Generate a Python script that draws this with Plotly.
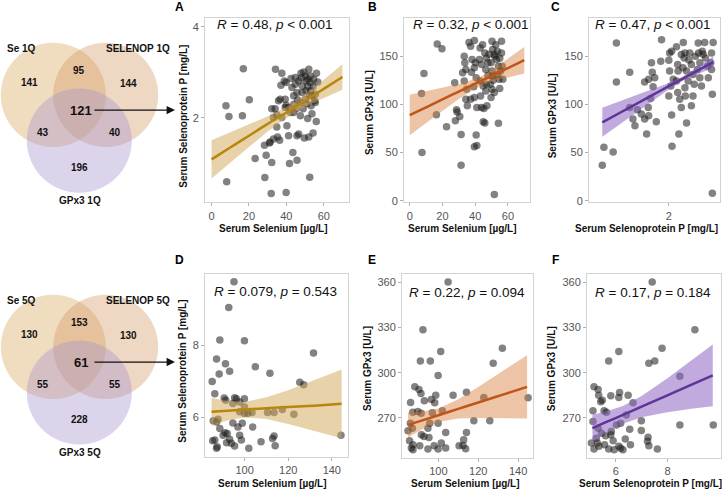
import plotly.graph_objects as go

W, H = 723, 494
FONT = "Liberation Sans, Arial, sans-serif"

# ---------------- data ----------------
# Panel A: Se 1Q vs SELENOP
a_se = [7.7, 9.3, 17.0, 16.5, 20.2, 8.1, 23.3, 28.3, 29.2, 31.3, 32.2, 28.5, 31.9, 39.9, 34.2, 37.6, 37.1, 38.9,
        34.0, 35.8, 33.1, 34.9, 35.3, 36.4, 37.6, 39.4, 40.3, 41.2, 42.1, 41.7, 43.5, 45.7, 42.5, 43.0, 43.9, 44.8,
        45.7, 46.6, 45.3, 45.7, 46.6, 47.8, 48.4, 47.5, 49.6, 52.0, 51.4, 52.5, 54.3, 56.0, 49.3, 50.7, 52.0, 52.8,
        51.4, 52.5, 50.2, 51.0, 53.2, 55.0, 55.5, 56.8, 56.1, 54.3, 53.7, 39.9, 36.7, 41.2, 43.9, 47.5, 39.4, 32.2,
        34.9, 33.1, 31.0, 39.9, 44.8, 50.2, 52.8, 54.6, 55.5, 53.7, 48.5, 50.5, 53.0, 49.0, 46.0, 44.0, 51.5, 48.0]
a_selenop = [2.27, 2.03, 3.08, 2.05, 2.40, 0.60, 1.11, 1.40, 1.18, 1.47, 1.02, 0.69, 0.34, 0.36, 3.07, 2.98, 2.72, 2.81,
             2.20, 2.38, 2.01, 1.80, 1.58, 1.51, 2.01, 2.41, 1.83, 1.61, 2.12, 1.00, 1.24, 1.07, 2.87, 2.67, 2.49, 2.74,
             1.61, 1.65, 2.20, 2.56, 2.81, 2.98, 2.56, 2.34, 1.56, 1.58, 1.99, 0.70, 1.67, 1.92, 3.01, 2.81, 3.07, 2.92,
             2.69, 2.50, 2.41, 2.31, 2.27, 2.38, 2.52, 2.79, 2.98, 2.69, 2.49, 2.78, 2.41, 2.23, 2.12, 2.05, 2.23, 2.20,
             2.07, 1.54, 1.45, 2.28, 2.89, 2.92, 2.78, 2.85, 2.34, 2.09, 2.70, 2.60, 2.60, 2.20, 2.40, 2.30, 2.85, 2.88]

# Panel B: Se 1Q vs GPx3
b_se = [16.8, 19.7, 8.7, 7.2, 7.5, 16.3, 22.5, 27.5, 27.9, 28.6, 31.4, 31.4, 30.6, 33.3, 33.7, 34.3, 32.3, 33.3,
        34.8, 34.3, 35.2, 36.2, 37.2, 39.5, 38.1, 39.5, 37.7, 40.6, 39.1, 37.2, 39.5, 41.0, 40.6, 39.5, 41.0, 42.6,
        43.9, 43.0, 44.9, 43.3, 43.9, 45.3, 44.5, 45.9, 46.8, 47.8, 46.5, 47.8, 46.8, 46.5, 47.2, 44.9, 45.9, 50.3,
        50.7, 51.7, 49.7, 50.3, 50.7, 49.2, 50.3, 49.7, 51.7, 52.6, 53.6, 53.0, 54.2, 53.6, 54.6, 55.0, 51.7, 54.2,
        56.1, 56.5, 55.5, 56.9, 56.1, 43.0, 40.1, 29.0, 52.0, 48.5, 55.0, 51.0]
b_gpx3 = [162.7, 157.9, 132.2, 111.2, 50.1, 89.3, 76.9, 122.6, 83.1, 94.4, 68.7, 36.7, 87.5, 150.0, 143.2, 136.3, 132.9, 124.3,
          115.7, 105.4, 98.5, 164.4, 160.3, 166.5, 146.6, 138.0, 133.5, 127.7, 118.4, 105.4, 107.1, 96.8, 68.3, 56.0, 57.3, 146.6,
          141.4, 124.3, 119.1, 108.8, 96.8, 95.8, 162.0, 153.5, 148.3, 143.2, 136.3, 130.1, 120.8, 114.0, 98.5, 82.0, 80.7, 165.5,
          156.9, 151.7, 143.2, 134.6, 129.4, 120.8, 115.7, 107.1, 112.3, 162.0, 155.2, 146.6, 139.7, 131.1, 126.0, 116.4, 6.5, 80.3,
          153.5, 139.7, 134.6, 126.0, 165.5, 158.6, 143.2, 92.0, 150.0, 152.0, 148.0, 125.0]

# Panel C: SELENOP 1Q vs GPx3
c_selenop = [0.35, 0.39, 0.62, 0.70, 0.70, 1.03, 1.11, 1.16, 1.03, 1.22, 1.32, 1.40, 1.45, 1.40, 1.50, 1.57, 1.59, 1.61,
             1.55, 1.49, 1.50, 1.65, 1.69, 1.82, 1.80, 2.02, 2.07, 2.00, 2.02, 2.11, 2.05, 2.00, 2.07, 2.08, 2.22, 2.23,
             2.19, 2.22, 2.27, 2.31, 2.25, 2.36, 2.40, 2.38, 2.44, 2.48, 2.40, 2.41, 2.44, 2.56, 2.52, 2.56, 2.60, 2.63,
             2.60, 2.73, 2.74, 2.77, 2.71, 2.77, 2.81, 2.83, 2.89, 2.91, 2.96, 2.98, 3.10, 3.06, 3.04, 3.06, 3.08, 3.08,
             2.19, 2.31, 2.66, 2.35, 2.50, 2.85]
c_gpx3 = [36.7, 55.6, 50.5, 163.7, 123.2, 133.5, 84.8, 77.9, 96.8, 94.4, 89.9, 84.8, 69.3, 123.2, 126.0, 143.2, 133.5, 118.4,
          106.1, 96.8, 88.2, 127.7, 82.0, 167.2, 144.9, 153.5, 155.2, 145.9, 134.6, 126.0, 119.1, 108.8, 88.9, 56.6, 141.4, 134.6,
          124.3, 112.3, 105.4, 96.8, 69.3, 164.4, 153.5, 148.3, 134.6, 124.3, 117.4, 108.8, 80.7, 98.5, 153.5, 141.4, 131.1, 120.8,
          108.8, 163.7, 153.5, 143.2, 136.3, 127.7, 119.1, 155.2, 164.4, 148.3, 139.7, 127.7, 164.4, 153.5, 143.2, 136.3, 110.5, 7.6,
          160.0, 151.7, 150.0, 138.0, 146.0, 152.0]

# Panel D: Se 5Q vs SELENOP
d_se = [95.1, 92.7, 88.6, 99.9, 87.1, 88.3, 91.2, 93.1, 85.1, 86.3, 90.6, 91.3, 95.4, 94.6, 97.7, 99.9, 104.9, 111.6,
        131.6, 125.3, 127.1, 85.6, 87.1, 87.8, 85.3, 86.3, 87.4, 87.1, 88.6, 90.1, 91.0, 92.0, 91.7, 93.1, 93.9, 95.4,
        94.6, 96.9, 98.9, 97.7, 98.5, 97.7, 99.9, 101.4, 103.4, 99.9, 101.9, 103.7, 107.5, 110.5, 113.5, 117.3, 122.6,
        112.8, 113.5, 114.0, 144.2, 96.2]
d_selenop = [9.75, 9.04, 8.14, 8.12, 7.61, 7.20, 7.48, 7.27, 6.99, 6.65, 6.53, 6.47, 6.54, 6.38, 6.42, 6.51, 7.40, 7.22,
             7.78, 6.97, 6.90, 5.90, 5.87, 5.94, 5.35, 5.37, 5.18, 5.14, 5.69, 5.50, 5.57, 5.55, 5.29, 5.39, 5.28, 5.20,
             5.84, 5.73, 5.83, 5.50, 5.37, 6.15, 6.10, 6.10, 6.13, 6.28, 5.14, 5.73, 5.32, 6.13, 6.13, 6.21, 6.08,
             5.41, 5.48, 5.21, 5.50, 6.51]

# Panel E: Se 5Q vs GPx3
e_se = [104.9, 92.3, 91.0, 96.0, 101.2, 99.9, 88.2, 90.3, 91.3, 93.0, 98.7, 98.2, 107.4, 114.1, 122.8, 127.5, 132.1, 145.0,
        86.1, 87.2, 89.7, 91.4, 97.0, 102.0, 99.9, 95.7, 94.8, 84.8, 87.0, 86.0, 91.5, 92.8, 95.3, 85.6, 87.3, 86.5,
        87.3, 90.7, 94.8, 97.9, 99.9, 101.5, 103.7, 103.7, 110.4, 112.4, 112.7, 114.1, 113.7, 117.8, 125.8, 96.5]
e_gpx3 = [360.0, 328.5, 307.7, 307.7, 314.0, 298.2, 290.6, 288.8, 286.2, 281.4, 285.1, 280.1, 285.1, 287.1, 283.6, 306.3, 316.2, 283.4,
          280.3, 273.7, 274.2, 273.1, 273.5, 274.8, 266.5, 266.5, 263.2, 261.5, 263.2, 266.5, 258.8, 257.7, 257.1, 254.9, 252.3, 250.1,
          249.0, 251.6, 249.4, 251.6, 249.4, 253.4, 260.4, 250.1, 251.6, 251.8, 255.5, 260.4, 249.6, 268.2, 268.2, 282.3]

# Panel F: SELENOP 5Q vs GPx3
f_selenop = [7.41, 9.06, 7.79, 5.73, 6.12, 7.51, 7.28, 8.48, 5.16, 5.32, 5.34, 5.81, 6.15, 6.12, 6.48, 6.67, 5.42, 5.48,
             5.12, 5.55, 5.64, 6.99, 8.48, 9.77, 5.12, 5.32, 5.45, 5.61, 5.83, 6.03, 6.19, 6.54, 6.99, 6.41, 5.06, 5.16,
             5.29, 5.35, 5.57, 5.73, 5.90, 5.94, 6.12, 6.19, 6.28, 6.37, 6.57, 7.23, 7.25, 7.28, 7.61, 5.81, 5.25]
f_gpx3 = [360.0, 328.5, 316.2, 307.7, 314.0, 307.7, 306.3, 297.6, 290.6, 288.8, 285.1, 284.7, 286.9, 283.6, 285.1, 280.1, 280.7, 281.8,
          274.8, 274.8, 273.7, 268.2, 265.4, 265.4, 267.6, 263.2, 259.9, 258.2, 261.0, 265.4, 266.5, 262.6, 261.7, 272.0, 253.4, 249.4,
          253.4, 251.2, 252.3, 249.4, 254.9, 249.0, 251.2, 249.9, 249.0, 256.0, 252.3, 254.5, 257.3, 251.6, 249.4, 258.8, 256.6]

# Fitted lines and confidence bands
fitA_x = [0, 10, 20, 30, 40, 45, 50, 60, 70]
fitA_y = [1.09, 1.35, 1.61, 1.87, 2.12, 2.25, 2.38, 2.64, 2.90]
fitA_lo = [0.67, 1.02, 1.36, 1.70, 2.00, 2.13, 2.24, 2.44, 2.62]
fitA_hi = [1.51, 1.68, 1.86, 2.04, 2.24, 2.37, 2.52, 2.84, 3.18]

fitB_x = [0, 10, 20, 30, 40, 45, 50, 60, 70]
fitB_y = [88.9, 97.0, 105.2, 113.3, 121.5, 125.5, 129.6, 137.7, 145.9]
fitB_lo = [67.9, 80.6, 93.3, 105.5, 116.5, 120.6, 123.7, 128.3, 132.2]
fitB_hi = [109.9, 113.4, 117.2, 121.1, 126.5, 130.4, 135.5, 147.1, 159.6]

fitC_x = [0.35, 0.8, 1.2, 1.6, 2.0, 2.35, 2.7, 3.1]
fitC_y = [81.4, 91.6, 100.7, 109.8, 118.9, 126.8, 134.8, 143.8]
fitC_lo = [66.4, 79.9, 91.9, 103.8, 115.5, 124.6, 131.4, 137.8]
fitC_hi = [96.4, 103.3, 109.5, 115.8, 122.3, 129.0, 138.2, 149.8]

fitD_x = [84.8, 92, 100, 110, 120, 132, 144.5]
fitD_y = [6.15, 6.18, 6.21, 6.25, 6.28, 6.32, 6.37]
fitD_lo = [5.77, 5.91, 6.00, 5.95, 5.81, 5.62, 5.42]
fitD_hi = [6.53, 6.45, 6.42, 6.55, 6.75, 7.02, 7.32]

fitE_x = [84.8, 92, 100, 110, 120, 132, 144.5]
fitE_y = [265.4, 268.4, 271.8, 276.0, 280.2, 285.3, 290.6]
fitE_lo = [257.1, 262.6, 267.3, 269.6, 270.0, 269.9, 269.6]
fitE_hi = [273.7, 274.2, 276.3, 282.4, 290.5, 300.7, 311.6]

fitF_x = [5.1, 5.6, 6.3, 7.0, 8.0, 9.0, 9.75]
fitF_y = [263.2, 267.0, 272.2, 277.5, 285.0, 292.6, 298.2]
fitF_lo = [254.2, 259.9, 266.3, 270.4, 273.7, 276.2, 277.7]
fitF_hi = [272.2, 274.1, 278.1, 284.6, 296.3, 309.0, 318.7]

stat_labels = ["<i>R</i> = 0.48, <i>p</i> &lt; 0.001", "<i>R</i> = 0.32, <i>p</i> &lt; 0.001",
               "<i>R</i> = 0.47, <i>p</i> &lt; 0.001", "<i>R</i> = 0.079, <i>p</i> = 0.543",
               "<i>R</i> = 0.22, <i>p</i> = 0.094", "<i>R</i> = 0.17, <i>p</i> = 0.184"]
panel_letters = ["A", "B", "C", "D", "E", "F"]
x_titles = ["Serum Selenium [µg/L]", "Serum Selenium [µg/L]", "Serum Selenoprotein P [mg/L]",
            "Serum Selenium [µg/L]", "Serum Selenium [µg/L]", "Serum Selenoprotein P [mg/L]"]
y_titles = ["Serum Selenoprotein P [mg/L]", "Serum GPx3 [U/L]", "Serum GPx3 [U/L]",
            "Serum Selenoprotein P [mg/L]", "Serum GPx3 [U/L]", "Serum GPx3 [U/L]"]

venn_top_sets = ["Se 1Q", "SELENOP 1Q", "GPx3 1Q"]
venn_top_counts = [141, 95, 144, 121, 43, 40, 196]   # Se, Se&SEL, SEL, all, Se&GPx, SEL&GPx, GPx
venn_bot_sets = ["Se 5Q", "SELENOP 5Q", "GPx3 5Q"]
venn_bot_counts = [130, 153, 130, 61, 55, 55, 228]

# ---------------- layout helpers ----------------
def px(x):
    return x / W

def py(y):
    return 1 - y / H

fig = go.Figure()

# panel boxes in pixels: (left, right, top, bottom)
boxes = [(205, 349, 18, 204), (404, 530, 18, 204), (589, 720, 18, 204),
         (205, 347.5, 276.5, 461), (402, 532.5, 276, 462), (587, 720.5, 276, 462)]
xranges = [[-3.5, 73.5], [-3.5, 73.5], [0.02, 3.27], [81.8, 147.2], [81.8, 147.2], [4.89, 10.05]]
yranges = [[0.146, 4.2], [-1.75, 189.9], [-1.75, 189.9], [4.89, 9.96], [243.3, 365.5], [243.3, 365.5]]
xticks = [[0, 20, 40, 60], [0, 20, 40, 60], [2], [100, 120, 140], [100, 120, 140], [6, 8]]
yticks = [[2, 4], [0, 50, 100, 150], [0, 50, 100, 150], [6, 8], [270, 300, 330, 360], [270, 300, 330, 360]]

scatter_x = [a_se, b_se, c_selenop, d_se, e_se, f_selenop]
scatter_y = [a_selenop, b_gpx3, c_gpx3, d_selenop, e_gpx3, f_gpx3]
fits = [(fitA_x, fitA_y, fitA_lo, fitA_hi), (fitB_x, fitB_y, fitB_lo, fitB_hi), (fitC_x, fitC_y, fitC_lo, fitC_hi),
        (fitD_x, fitD_y, fitD_lo, fitD_hi), (fitE_x, fitE_y, fitE_lo, fitE_hi), (fitF_x, fitF_y, fitF_lo, fitF_hi)]
line_colors = ["#B8860B", "#BF5517", "#5E3496", "#B8860B", "#BF5517", "#5E3496"]
band_colors = ["rgba(210,165,85,0.5)", "rgba(215,125,55,0.45)", "rgba(140,100,195,0.55)",
               "rgba(210,165,85,0.5)", "rgba(215,125,55,0.45)", "rgba(140,100,195,0.55)"]

# positions of text pieces (pixels)
stat_pos = [(274.5, 25), (471, 25), (653, 25), (275.7, 294.3), (467, 295), (652.5, 295)]
letter_pos = [(179, 7), (372.5, 7), (555.5, 7), (179, 262.3), (372.5, 262.3), (555.5, 262.3)]
xtitle_pos = [(273, 230), (463, 230), (646, 230), (272, 487.3), (465, 487.3), (650, 487.3)]
ytitle_pos = [(182.7, 117), (369, 114), (552.3, 117), (182.7, 374), (368, 372), (552.3, 372)]

annotations = []
for i in range(6):
    n = "" if i == 0 else str(i + 1)
    l, r, t, b = boxes[i]
    axis_common = dict(showline=True, mirror=True, linecolor="#d3d3d3", linewidth=1,
                       showgrid=False, zeroline=False, ticks="outside", ticklen=3, tickwidth=1,
                       tickcolor="#b0b0b0", tickfont=dict(family=FONT, size=11, color="#555555"))
    fig.layout["xaxis" + n] = dict(domain=[px(l), px(r)], range=xranges[i], tickvals=xticks[i],
                                   anchor="y" + n, **axis_common)
    fig.layout["yaxis" + n] = dict(domain=[py(b), py(t)], range=yranges[i], tickvals=yticks[i],
                                   anchor="x" + n, **axis_common)
    fig.add_trace(go.Scatter(x=scatter_x[i], y=scatter_y[i], mode="markers", xaxis="x" + n, yaxis="y" + n,
                             marker=dict(size=7.5, color="rgba(30,28,25,0.55)", line=dict(width=0)),
                             showlegend=False, hoverinfo="skip"))
    fx, fy, flo, fhi = fits[i]
    fig.add_trace(go.Scatter(x=list(fx) + list(fx)[::-1], y=list(fhi) + list(flo)[::-1], mode="lines",
                             fill="toself", fillcolor=band_colors[i], line=dict(width=0),
                             xaxis="x" + n, yaxis="y" + n, showlegend=False, hoverinfo="skip"))
    fig.add_trace(go.Scatter(x=fx, y=fy, mode="lines", line=dict(color=line_colors[i], width=2.5, shape="spline"),
                             xaxis="x" + n, yaxis="y" + n, showlegend=False, hoverinfo="skip"))
    sx, sy = stat_pos[i]
    annotations.append(dict(x=px(sx), y=py(sy), xref="paper", yref="paper", text=stat_labels[i],
                            showarrow=False, xanchor="center", yanchor="middle",
                            font=dict(family=FONT, size=13.5, color="#111111")))
    lx, ly = letter_pos[i]
    annotations.append(dict(x=px(lx), y=py(ly), xref="paper", yref="paper", text="<b>%s</b>" % panel_letters[i],
                            showarrow=False, xanchor="center", yanchor="middle",
                            font=dict(family=FONT, size=12, color="#000000")))
    tx, ty = xtitle_pos[i]
    annotations.append(dict(x=px(tx), y=py(ty), xref="paper", yref="paper", text="<b>%s</b>" % x_titles[i],
                            showarrow=False, xanchor="center", yanchor="middle",
                            font=dict(family=FONT, size=10, color="#111111")))
    tx, ty = ytitle_pos[i]
    annotations.append(dict(x=px(tx), y=py(ty), xref="paper", yref="paper", text="<b>%s</b>" % y_titles[i],
                            showarrow=False, xanchor="center", yanchor="middle", textangle=-90,
                            font=dict(family=FONT, size=10, color="#111111")))

# ---------------- Venn diagrams ----------------
venn_fill = ["rgba(218,168,93,0.4)", "rgba(212,155,105,0.4)", "rgba(167,148,205,0.4)"]
R = 52.5
shapes = []
for (dy, sets, counts) in [(0, venn_top_sets, venn_top_counts), (254, venn_bot_sets, venn_bot_counts)]:
    centers = [(53.3, 95.7 + dy), (105.7, 95.7 + dy), (79.3, 141.7 + dy)]
    for (cx, cy), col in zip(centers, venn_fill):
        shapes.append(dict(type="circle", xref="paper", yref="paper", x0=px(cx - R), x1=px(cx + R),
                           y0=py(cy + R), y1=py(cy - R), fillcolor=col, line=dict(width=0), layer="below"))
    label_pos = [(21, 49 + dy), (138.3, 49 + dy), (80, 202 + dy)]
    for (lx, ly), s in zip(label_pos, sets):
        annotations.append(dict(x=px(lx), y=py(ly), xref="paper", yref="paper", text="<b>%s</b>" % s,
                                showarrow=False, xanchor="center", yanchor="middle",
                                font=dict(family=FONT, size=10, color="#111111")))
    count_pos = [(29.3, 83.5 + dy), (79.3, 71 + dy), (128.3, 84 + dy), (81, 111 + dy),
                 (42.7, 133.3 + dy), (115, 133.3 + dy), (79.3, 169.3 + dy)]
    for k, ((cx, cy), c) in enumerate(zip(count_pos, counts)):
        annotations.append(dict(x=px(cx), y=py(cy), xref="paper", yref="paper", text="<b>%d</b>" % c,
                                showarrow=False, xanchor="center", yanchor="middle",
                                font=dict(family=FONT, size=13 if k == 3 else 10, color="#111111")))
    # arrow from the central count to the scatter panel
    annotations.append(dict(x=px(175), y=py(111 + dy), xref="paper", yref="paper", ax=-82, ay=0,
                            axref="pixel", ayref="pixel", text="", showarrow=True, arrowhead=2,
                            arrowsize=1.4, arrowwidth=1.2, arrowcolor="#111111", standoff=0))

fig.update_layout(width=W, height=H, margin=dict(l=0, r=0, t=0, b=0),
                  paper_bgcolor="white", plot_bgcolor="white",
                  annotations=annotations, shapes=shapes, showlegend=False)

fig.write_html("out.html", config={"displayModeBar": False},
               post_script="document.body.style.margin='0';document.body.style.padding='0';"
                           "document.body.style.overflow='hidden';")
